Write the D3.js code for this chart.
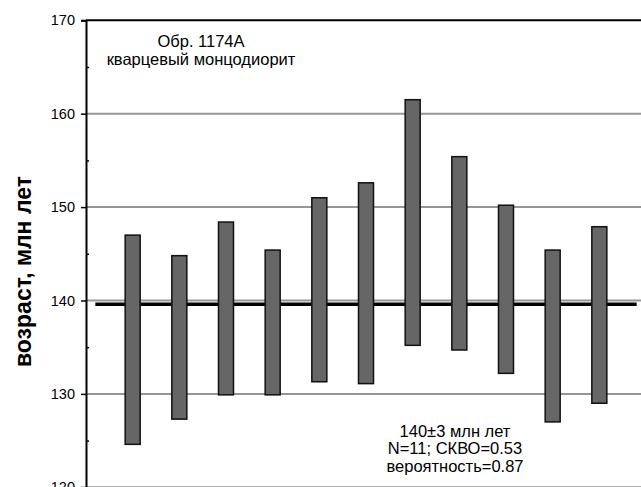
<!DOCTYPE html>
<html><head><meta charset="utf-8">
<script src="https://cdn.jsdelivr.net/npm/d3@7"></script>
<style>body{margin:0;background:#fff}svg{display:block}text{font-family:"Liberation Sans",Arial,sans-serif}</style>
</head><body>
<svg id="c" width="641" height="487"></svg>
<script>
const analyses = [1,2,3,4,5,6,7,8,9,10,11];
const ageHigh = [147.0,144.8,148.4,145.4,151.0,152.6,161.5,155.4,150.2,145.4,147.9];
const ageLow  = [124.6,127.3,129.9,129.9,131.3,131.1,135.2,134.7,132.2,127.0,129.0];
const meanAge = 139.6;
const yTicks = [120,130,140,150,160,170];
const yMinor = [125,135,145,155,165];
const titleLines = ["Обр. 1174А","кварцевый монцодиорит"];
const statLines = ["140±3 млн лет","N=11; СКВО=0.53","вероятность=0.87"];
const yLabel = "возраст, млн лет";

const svg = d3.select("#c");
const x = d3.scaleLinear().domain([0,12]).range([86,646]);
const y = d3.scaleLinear().domain([120,170]).range([487.3,20.3]);

// gridlines
svg.append("g").selectAll("line").data(yTicks.filter(t=>t<170)).join("line")
  .attr("x1",87).attr("x2",641).attr("y1",d=>y(d)).attr("y2",d=>y(d))
  .attr("stroke","#969696").attr("stroke-width",2);

// top border
svg.append("line").attr("x1",86).attr("x2",641).attr("y1",y(170)).attr("y2",y(170))
  .attr("stroke","#000").attr("stroke-width",2);

// mean line
svg.append("line").attr("x1",x(0.2)).attr("x2",x(11.8)).attr("y1",y(meanAge)).attr("y2",y(meanAge))
  .attr("stroke","#000").attr("stroke-width",3.5);

// bars
svg.append("g").selectAll("rect").data(analyses).join("rect")
  .attr("x",(d)=>x(d)-7.5).attr("width",15)
  .attr("y",(d,i)=>y(ageHigh[i])).attr("height",(d,i)=>y(ageLow[i])-y(ageHigh[i]))
  .attr("fill","#666").attr("stroke","#111").attr("stroke-width",1.5);

// y axis
const ax = svg.append("g").attr("transform","translate(86,0)")
  .call(d3.axisLeft(y).tickValues(yTicks).tickSize(5).tickPadding(6).tickFormat(d3.format("d")));
ax.select(".domain").attr("stroke","#000").attr("stroke-width",2);
ax.selectAll(".tick line").attr("stroke","#000").attr("stroke-width",1.5);
ax.selectAll(".tick text").attr("font-size",14.5).attr("fill","#000")
  .style("font-family",'"Liberation Sans",Arial,sans-serif');
svg.append("g").attr("transform","translate(86,0)")
  .call(d3.axisRight(y).tickValues(yMinor).tickSize(3).tickFormat(""))
  .call(g=>g.select(".domain").remove())
  .selectAll(".tick line").attr("stroke","#000").attr("stroke-width",1.5);

// y label
svg.append("text").attr("transform","translate(31,271.5) rotate(-90)")
  .attr("text-anchor","middle").attr("font-size",23).attr("font-weight","bold").text(yLabel);

// title annotation
svg.append("g").selectAll("text").data(titleLines).join("text")
  .attr("x",201).attr("y",(d,i)=>47+i*18).attr("text-anchor","middle").attr("font-size",16.5).text(d=>d);

// stats annotation
svg.append("g").selectAll("text").data(statLines).join("text")
  .attr("x",455).attr("y",(d,i)=>436.7+i*17.5).attr("text-anchor","middle").attr("font-size",16.5).text(d=>d);
</script>
</body></html>
